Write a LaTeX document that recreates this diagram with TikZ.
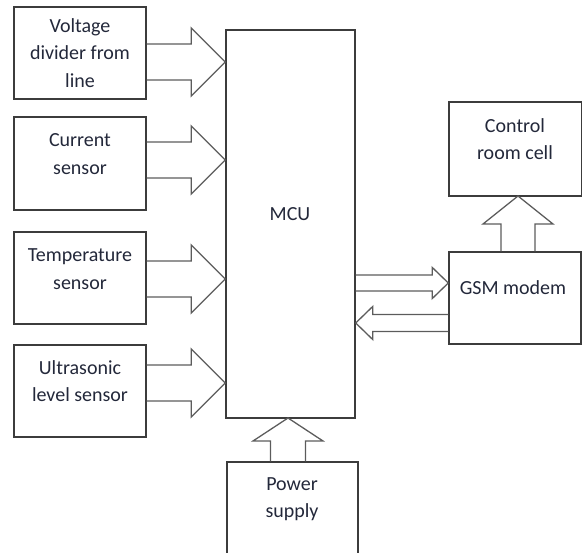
\documentclass[tikz,border=0pt]{standalone}
\usepackage{fontspec}
\setmainfont{Carlito}
\usetikzlibrary{calc}
\definecolor{frame}{HTML}{3C3C3C}
\definecolor{shaft}{HTML}{5C5C5C}
\definecolor{ink}{HTML}{23283A}

\begin{document}
\begin{tikzpicture}[x=1pt, y=-1pt,
      box/.style={rectangle, draw=frame, line width=1.4pt, minimum width=132pt,
        minimum height=92pt, inner sep=0pt},
      txt/.style={align=center, text=ink, inner sep=0pt,
        font=\fontsize{20}{27.5}\selectfont},
      % hollow block arrow: {shaft half width}{head half width}{head length}
      fat/.style n args={3}{draw=shaft, line width=1.3pt, to path={
        let \p1=(\tikztostart), \p2=(\tikztotarget),
            \n1={veclen(\x2-\x1,\y2-\y1)},
            \n2={(\x2-\x1)/\n1}, \n3={(\y2-\y1)/\n1} in
        ({\x1-\n3*#1},{\y1+\n2*#1})
        -- ({\x2-\n2*#3-\n3*#1},{\y2-\n3*#3+\n2*#1})
        -- ({\x2-\n2*#3-\n3*#2},{\y2-\n3*#3+\n2*#2})
        -- (\p2)
        -- ({\x2-\n2*#3+\n3*#2},{\y2-\n3*#3-\n2*#2})
        -- ({\x2-\n2*#3+\n3*#1},{\y2-\n3*#3-\n2*#1})
        -- ({\x1+\n3*#1},{\y1-\n2*#1})}}]

    \clip (0,0) rectangle (582,553);

    % sensors
    \node[box] (volt) at (80,53) {};
    \node[box, minimum height=93pt] (curr) at (80,163.5) {};
    \node[box] (temp) at (80,278) {};
    \node[box] (ultra) at (80,391) {};
    \node[txt] (volttxt) at (80,53) {Voltage\\divider from\\line};
    \node[txt] (currtxt) at (80,154) {Current\\sensor};
    \node[txt] (temptxt) at (80,269) {Temperature\\sensor};
    \node[txt] (ultratxt) at (80,381) {Ultrasonic\\level sensor};

    % controller
    \node[box, minimum width=129pt, minimum height=388pt] (mcu) at (290.5,224) {};
    \node[txt] (mcutxt) at (290,214) {MCU};

    % modem, control room, supply
    \node[box] (gsm) at (515,298) {};
    \node[txt] (gsmtxt) at (513,288) {GSM modem};
    \node[box, minimum width=133pt, minimum height=94pt] (ctrl) at (515.5,149) {};
    \node[txt] (ctrltxt) at (515,139) {Control\\room cell};
    \node[box, minimum width=131pt, minimum height=93pt] (power) at (292.5,508.5) {};
    \node[txt] (powertxt) at (292,499) {Power\\supply};

    \coordinate (in1) at (mcu.west |- 0,62);
    \coordinate (in2) at (mcu.west |- 0,160);
    \coordinate (in3) at (mcu.west |- 0,279);
    \coordinate (in4) at (mcu.west |- 0,383);
    \coordinate (tx) at (gsm.west |- 0,283);
    \coordinate (rx) at (mcu.east |- 0,323);
    \coordinate (vin) at (288,418);
    \coordinate (up) at (518,196);

    \draw[fat={18}{34}{34}] (volt.east |- in1) to (in1);
    \draw[fat={18}{34}{34}] (curr.east |- in2) to (in2);
    \draw[fat={18}{34}{34}] (temp.east |- in3) to (in3);
    \draw[fat={18}{34}{34}] (ultra.east |- in4) to (in4);

    \draw[fat={8}{15.5}{16}] (mcu.east |- tx) to (tx);
    \draw[fat={8.5}{16.5}{17}] (gsm.west |- rx) to (rx);
    \draw[fat={17.5}{35}{23}] (power.north -| vin) to (vin);
    \draw[fat={17}{35}{28}] (gsm.north -| up) to (up);
  \end{tikzpicture}
\end{document}
